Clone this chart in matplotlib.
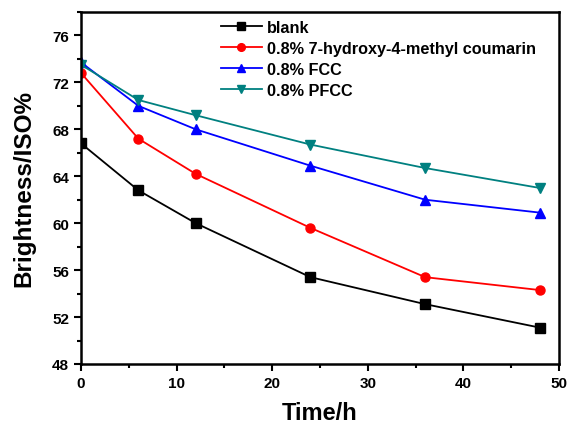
import matplotlib
matplotlib.use("Agg")
import matplotlib.pyplot as plt
from matplotlib.ticker import MultipleLocator

plt.rcParams['font.family'] = ['Liberation Sans', 'DejaVu Sans']
plt.rcParams['font.weight'] = 'bold'

time_h = [0, 6, 12, 24, 36, 48]
blank = [66.8, 62.8, 60.0, 55.4, 53.1, 51.1]
coumarin = [72.8, 67.2, 64.2, 59.6, 55.4, 54.3]
fcc = [73.7, 70.0, 68.0, 64.9, 62.0, 60.9]
pfcc = [73.5, 70.5, 69.2, 66.7, 64.7, 63.0]

labels = ['blank', '0.8% 7-hydroxy-4-methyl coumarin', '0.8% FCC', '0.8% PFCC']
colors = ['#000000', '#ff0000', '#0000ff', '#008080']
markers = ['s', 'o', '^', 'v']

fig = plt.figure(figsize=(5.67, 4.27), dpi=100)
ax = fig.add_axes([0.1429, 0.1452, 0.843, 0.8244])

for ys, lab, c, m in zip([blank, coumarin, fcc, pfcc], labels, colors, markers):
    ax.plot(time_h, ys, color=c, marker=m, markersize=6.5, linewidth=1.3, label=lab)

ax.set_xlim(0, 50)
ax.set_ylim(48, 78)
ax.xaxis.set_major_locator(MultipleLocator(10))
ax.xaxis.set_minor_locator(MultipleLocator(5))
ax.yaxis.set_major_locator(MultipleLocator(4))
ax.yaxis.set_minor_locator(MultipleLocator(2))
ax.tick_params(axis='both', which='major', direction='out', length=5, width=1.5, labelsize=11)
ax.tick_params(axis='both', which='minor', direction='out', length=3, width=1.5)
for sp in ax.spines.values():
    sp.set_linewidth(1.8)

ax.set_xlabel('Time/h', fontsize=17, fontweight='bold', labelpad=8)
ax.set_ylabel('Brightness/ISO%', fontsize=17.5, fontweight='bold', labelpad=12)

leg = ax.legend(loc='upper left', bbox_to_anchor=(0.276, 1.0), frameon=False,
                fontsize=11.7, handlelength=2.5, handletextpad=0.3, labelspacing=0.36,
                borderaxespad=0.1, markerscale=0.85)

fig.savefig('out.png', dpi=100)
